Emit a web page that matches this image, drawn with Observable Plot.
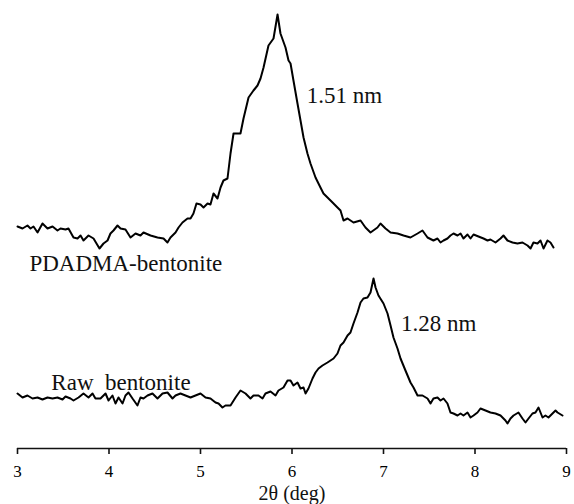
<!DOCTYPE html>
<html>
<head>
<meta charset="utf-8">
<script src="https://cdn.jsdelivr.net/npm/d3@7"></script>
<script src="https://cdn.jsdelivr.net/npm/@observablehq/plot@0.6"></script>
<style>
  html, body { margin: 0; padding: 0; background: #fff; }
  svg text { white-space: pre; font-family: "Liberation Serif", "DejaVu Serif", serif !important; }
</style>
</head>
<body>
<div id="chart"></div>
<script>
// PDADMA-bentonite pattern (upper curve): 2θ (deg) and intensity (a.u.)
const pdadmaTheta = [3.000,3.055,3.109,3.142,3.175,3.219,3.273,3.328,3.383,3.437,3.470,3.525,3.557,3.612,3.656,3.689,3.721,3.776,3.831,3.896,3.940,3.984,4.016,4.049,4.093,4.126,4.180,4.235,4.290,4.344,4.377,4.454,4.530,4.596,4.639,4.672,4.727,4.760,4.803,4.858,4.891,4.923,4.956,5.000,5.033,5.077,5.109,5.142,5.186,5.219,5.251,5.295,5.328,5.361,5.437,5.470,5.525,5.579,5.623,5.656,5.689,5.743,5.798,5.831,5.842,5.874,5.929,5.962,5.984,6.016,6.060,6.093,6.126,6.169,6.202,6.257,6.311,6.344,6.388,6.443,6.497,6.530,6.563,6.607,6.672,6.749,6.803,6.858,6.934,6.967,7.022,7.077,7.153,7.219,7.295,7.372,7.426,7.481,7.546,7.590,7.623,7.656,7.699,7.732,7.765,7.809,7.842,7.874,7.918,7.951,7.984,8.038,8.093,8.137,8.169,8.224,8.279,8.311,8.355,8.410,8.464,8.519,8.574,8.607,8.639,8.683,8.716,8.749,8.792,8.825,8.858];
const pdadmaIntensity = [222,220,223,220,222,216,225,220,222,218,220,219,220,211,210,213,208,213,210,200,205,208,215,218,223,220,219,211,215,213,216,213,211,210,206,211,216,221,226,230,230,235,245,244,241,245,244,255,250,261,268,270,295,315,315,330,351,358,363,370,381,403,410,428,434,415,401,388,385,368,345,328,311,295,285,271,261,255,251,246,241,238,228,230,226,228,221,216,221,225,220,216,215,213,211,215,218,211,208,210,206,208,210,213,215,213,215,210,214,210,214,212,210,208,209,206,210,213,208,206,205,206,203,200,206,205,208,200,208,206,201];

// Raw bentonite pattern (lower curve)
const rawTheta = [3.000,3.055,3.109,3.164,3.219,3.273,3.328,3.383,3.437,3.492,3.525,3.579,3.612,3.667,3.721,3.776,3.820,3.852,3.907,3.962,3.995,4.038,4.071,4.104,4.148,4.180,4.213,4.257,4.311,4.344,4.377,4.421,4.475,4.530,4.585,4.639,4.694,4.727,4.781,4.836,4.891,4.945,5.000,5.055,5.109,5.164,5.197,5.240,5.273,5.328,5.383,5.437,5.492,5.546,5.579,5.634,5.678,5.710,5.765,5.820,5.852,5.907,5.951,5.984,6.016,6.060,6.093,6.126,6.148,6.180,6.224,6.257,6.290,6.333,6.388,6.421,6.454,6.497,6.530,6.563,6.607,6.639,6.672,6.716,6.749,6.781,6.825,6.858,6.891,6.913,6.945,7.000,7.044,7.077,7.109,7.153,7.186,7.240,7.295,7.328,7.372,7.426,7.481,7.514,7.546,7.590,7.623,7.656,7.699,7.732,7.765,7.809,7.842,7.874,7.918,7.951,7.984,8.027,8.060,8.115,8.169,8.224,8.279,8.333,8.355,8.388,8.421,8.475,8.519,8.552,8.585,8.628,8.661,8.694,8.738,8.770,8.803,8.847,8.880,8.902,8.956];
const rawIntensity = [55,51,53,50,51,49,51,50,51,49,52,50,48,51,55,51,55,50,50,55,48,53,45,51,45,53,56,50,43,51,50,53,55,50,55,56,50,53,55,53,51,53,55,51,50,46,45,41,43,43,51,58,55,50,53,53,50,55,57,53,58,61,68,68,63,66,60,61,55,60,70,76,80,83,86,88,90,95,103,106,113,116,125,136,146,150,151,156,170,161,153,145,135,123,111,100,90,78,66,61,53,53,50,45,50,51,48,50,45,36,35,33,35,33,36,31,33,36,40,38,36,35,33,28,25,30,33,36,30,26,30,35,36,41,31,33,31,35,38,36,33];

// Axis ticks and annotations
const xTicks = [3, 4, 5, 6, 7, 8, 9];
const labelText = ["1.51 nm", "1.28 nm", "PDADMA-bentonite", "Raw  bentonite"];
const labelTheta = [6.16, 7.19, 3.13, 3.37];
const labelIntensity = [353, 125, 185, 66];
const xLabel = "2θ (deg)";

const serif = "Liberation Serif";

const curves = [
  ...pdadmaTheta.map((t, i) => ({sample: "PDADMA-bentonite", theta: t, intensity: pdadmaIntensity[i]})),
  ...rawTheta.map((t, i) => ({sample: "Raw bentonite", theta: t, intensity: rawIntensity[i]}))
];
const labels = labelText.map((s, i) => ({text: s, theta: labelTheta[i], intensity: labelIntensity[i]}));

const chart = Plot.plot({
  width: 574,
  height: 504,
  marginLeft: 17,
  marginRight: 8,
  marginTop: 0,
  marginBottom: 56,
  style: {fontFamily: serif, fontSize: "17px", background: "#fff", color: "#000"},
  x: {domain: [3, 9]},
  y: {domain: [0, 448], axis: null},
  marks: [
    Plot.ruleY([0], {stroke: "#111", strokeWidth: 1.6}),
    Plot.axisX({ticks: xTicks, tickFormat: d3.format("d"), tickSize: 6, tickPadding: 10, label: null, fontSize: 17, fontFamily: serif, stroke: "#111", strokeWidth: 1.6}),
    Plot.line(curves, {x: "theta", y: "intensity", z: "sample", stroke: "#000", strokeWidth: 2, strokeLinejoin: "round"}),
    Plot.text(labels, {x: "theta", y: "intensity", text: "text", textAnchor: "start", fontSize: 23, fontFamily: serif, fill: "#111"}),
    Plot.text([xLabel], {frameAnchor: "bottom", dy: 51, fontSize: 20, fontFamily: serif, fill: "#111"})
  ]
});
document.getElementById("chart").appendChild(chart);
</script>
</body>
</html>
